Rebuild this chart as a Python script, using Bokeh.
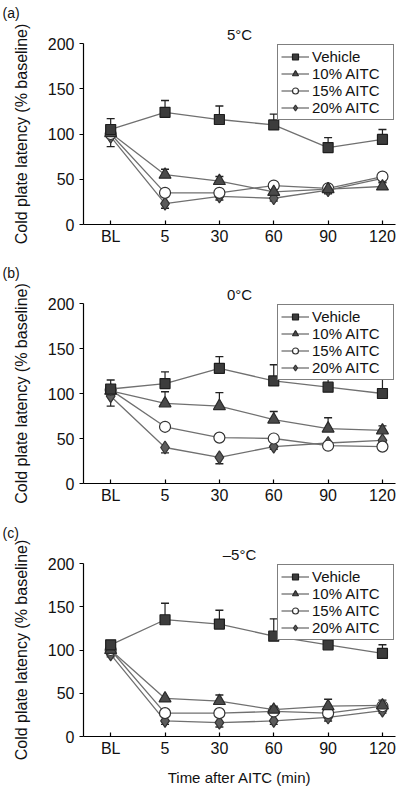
from bokeh.plotting import figure
from bokeh.layouts import column
from bokeh.models import Range1d, FixedTicker, Legend, LegendItem, Title
from bokeh.embed import file_html
from bokeh.resources import INLINE

times = ["BL", "5", "30", "60", "90", "120"]
series_names = ["Vehicle", "10% AITC", "15% AITC", "20% AITC"]
panel_letters = ["(a)", "(b)", "(c)"]
panel_temps = ["5\u00b0C", "0\u00b0C", "\u20135\u00b0C"]

# Panel (a) 5 °C
a_vehicle = [105, 124, 116, 110, 85, 94]
a_vehicle_err = [12, 13, 15, 12, 11, 11]
a_aitc10 = [101, 55, 48, 36, 39, 42]
a_aitc10_err = [0, 6, 5, 4, 3, 4]
a_aitc15 = [100, 35, 35, 43, 40, 53]
a_aitc15_err = [0, 0, 0, 0, 0, 4]
a_aitc20 = [97, 23, 31, 29, 38, 51]
a_aitc20_err = [11, 5, 4, 3, 4, 4]

# Panel (b) 0 °C
b_vehicle = [105, 111, 128, 114, 107, 100]
b_vehicle_err = [10, 13, 13, 18, 12, 17]
b_aitc10 = [103, 89, 86, 71, 61, 59]
b_aitc10_err = [0, 13, 15, 9, 12, 5]
b_aitc15 = [104, 63, 51, 50, 42, 41]
b_aitc15_err = [0, 0, 0, 0, 0, 0]
b_aitc20 = [97, 40, 29, 41, 45, 48]
b_aitc20_err = [11, 6, 7, 3, 3, 3]

# Panel (c) -5 °C
c_vehicle = [106, 135, 130, 116, 106, 96]
c_vehicle_err = [3, 19, 16, 20, 14, 10]
c_aitc10 = [100, 44, 41, 31, 35, 36]
c_aitc10_err = [0, 0, 7, 4, 8, 6]
c_aitc15 = [100, 27, 27, 29, 27, 35]
c_aitc15_err = [0, 0, 0, 0, 0, 3]
c_aitc20 = [95, 18, 16, 18, 22, 30]
c_aitc20_err = [3, 4, 5, 4, 4, 3]

panels = [
    ([a_vehicle, a_aitc10, a_aitc15, a_aitc20], [a_vehicle_err, a_aitc10_err, a_aitc15_err, a_aitc20_err]),
    ([b_vehicle, b_aitc10, b_aitc15, b_aitc20], [b_vehicle_err, b_aitc10_err, b_aitc15_err, b_aitc20_err]),
    ([c_vehicle, c_aitc10, c_aitc15, c_aitc20], [c_vehicle_err, c_aitc10_err, c_aitc15_err, c_aitc20_err]),
]

FONT = "Liberation Sans"
LINE_COL = "#707070"
styles = [
    dict(marker="square", size=10, fill_color="#3c3c3c", line_color="#1e1e1e"),
    dict(marker="triangle", size=12, fill_color="#4a4a4a", line_color="#2a2a2a"),
    dict(marker="circle", size=11, fill_color="white", line_color="#333333"),
    dict(marker="diamond", size=13, fill_color="#5c5c5c", line_color="#333333"),
]
err_dirs = [1, 1, 1, -1]

heights = [260, 260, 268]
tops = [43, 41, 42]
bottoms = [36, 37, 47]

figs = []
xs = list(range(len(times)))
for k, (vals, errs) in enumerate(panels):
    p = figure(width=405, height=heights[k], output_backend="svg", toolbar_location=None,
               x_range=Range1d(-0.5, 5.24), y_range=Range1d(0, 200),
               min_border_left=83, min_border_right=10,
               min_border_top=tops[k], min_border_bottom=bottoms[k])
    p.outline_line_color = None
    p.xgrid.visible = False
    p.ygrid.visible = False
    p.background_fill_color = "white"
    p.border_fill_color = "white"

    # outer title: panel letter; inner title (closest to frame): temperature
    p.title.text = panel_letters[k]
    p.title.align = "left"
    p.title.offset = -81
    p.title.standoff = 5
    p.title.text_font = FONT
    p.title.text_font_size = "14px"
    p.title.text_font_style = "normal"
    p.title.text_color = "#111111"
    p.add_layout(Title(text=panel_temps[k], align="center", offset=7, standoff=1,
                       text_font=FONT, text_font_size="15px", text_font_style="normal",
                       text_color="#111111"), "above")

    p.xaxis.ticker = FixedTicker(ticks=xs)
    p.xaxis.major_label_overrides = {i: t for i, t in enumerate(times)}
    p.yaxis.ticker = FixedTicker(ticks=[0, 50, 100, 150, 200])
    for ax in (p.xaxis[0], p.yaxis[0]):
        ax.axis_line_color = "black"
        ax.axis_line_width = 1.2
        ax.major_tick_line_color = "black"
        ax.major_tick_line_width = 1.2
        ax.minor_tick_line_color = None
        ax.major_label_text_font = FONT
        ax.major_label_text_font_size = "16px"
        ax.major_label_text_color = "#111111"
        ax.axis_label_text_font = FONT
        ax.axis_label_text_font_style = "normal"
        ax.axis_label_text_font_size = "15px"
        ax.axis_label_text_color = "#111111"
    p.xaxis.major_tick_in = 4
    p.xaxis.major_tick_out = 0
    p.xaxis.major_label_standoff = 3
    p.yaxis.major_tick_in = 0
    p.yaxis.major_tick_out = 4
    p.yaxis.major_label_standoff = 5
    p.yaxis.axis_label = "Cold plate latency (% baseline)"
    p.yaxis.axis_label_text_font_size = "16px"
    p.yaxis.axis_label_standoff = 15
    if k == 2:
        p.xaxis.axis_label = "Time after AITC (min)"
        p.xaxis.axis_label_standoff = 9

    for s in [3, 2, 1, 0]:
        y = vals[s]
        e = errs[s]
        d = err_dirs[s]
        ex = [xs[i] for i in range(len(xs)) if e[i] > 0]
        ey0 = [y[i] for i in range(len(xs)) if e[i] > 0]
        ey1 = [y[i] + d * e[i] for i in range(len(xs)) if e[i] > 0]
        if ex:
            p.segment(x0=ex, y0=ey0, x1=ex, y1=ey1, line_color="#222222", line_width=1.2)
            p.scatter(x=ex, y=ey1, marker="dash", size=8, line_color="#222222", line_width=1.4)
    renderers = {}
    for s in [3, 2, 1, 0]:
        lr = p.line(x=xs, y=vals[s], line_color=LINE_COL, line_width=1.3)
        st = styles[s]
        mr = p.scatter(x=xs, y=vals[s], marker=st["marker"], size=st["size"],
                       fill_color=st["fill_color"], line_color=st["line_color"], line_width=1.2)
        renderers[s] = [lr, mr]
    items = [LegendItem(label=series_names[s], renderers=renderers[s]) for s in range(4)]

    legend = Legend(items=items, location="top_right", orientation="vertical",
                    label_text_font=FONT, label_text_font_size="15px", label_text_color="#111111",
                    glyph_width=28, glyph_height=15, label_height=15, spacing=0,
                    label_standoff=3, label_width=78, padding=3, margin=1,
                    border_line_color="black", border_line_width=1.2,
                    background_fill_color="white", background_fill_alpha=1.0)
    p.add_layout(legend, "center")
    figs.append(p)

layout = column(*figs, spacing=0)
open("out.html", "w").write(file_html(layout, INLINE))
